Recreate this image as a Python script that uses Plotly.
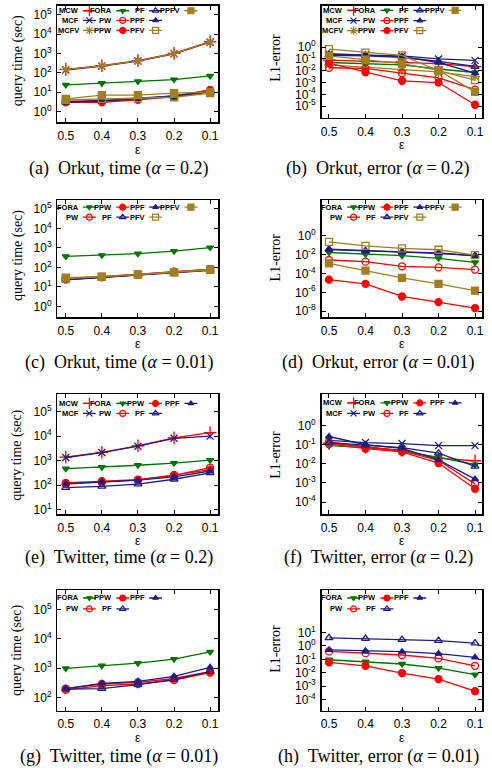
import plotly.graph_objects as go

W, H = 492, 779

EPS = [0.5, 0.4, 0.3, 0.2, 0.1]
EPS_TEXT = ["0.5", "0.4", "0.3", "0.2", "0.1"]

# (a) Orkut, query time (sec), alpha = 0.2
orkut_time_a02 = {
    "MCW":  [150, 232, 425, 1010, 4100],
    "MCF":  [140, 222, 405, 950, 3800],
    "MCFV": [147, 228, 415, 980, 3950],
    "FORA": [24, 29, 36, 45, 70],
    "PW":   [3.0, 3.0, 4.0, 6.0, 12],
    "PPW":  [3.5, 3.5, 4.5, 6.5, 13],
    "PF":   [3.0, 3.5, 4.5, 6.0, 10],
    "PPF":  [3.2, 3.8, 5.0, 6.5, 10],
    "PFV":  [4.0, 4.5, 5.0, 5.5, 9],
    "PPFV": [4.5, 7.0, 7.0, 9.0, 10],
}
# (b) Orkut, L1-error, alpha = 0.2
orkut_err_a02 = {
    "MCW":  [0.079, 0.063, 0.056, 0.040, 0.022],
    "MCF":  [0.25, 0.22, 0.18, 0.10, 0.076],
    "MCFV": [0.032, 0.020, 0.011, 0.0079, 0.0032],
    "FORA": [0.050, 0.042, 0.032, 0.014, 0.0071],
    "PW":   [0.018, 0.016, 0.0063, 0.0025, 0.00025],
    "PPW":  [0.045, 0.0074, 0.0014, 0.0010, 1.3e-5],
    "PF":   [0.20, 0.18, 0.14, 0.063, 0.023],
    "PPF":  [0.28, 0.22, 0.16, 0.050, 0.0063],
    "PFV":  [0.68, 0.35, 0.20, 0.010, 0.0016],
    "PPFV": [0.18, 0.079, 0.040, 0.011, 0.00016],
}
# (c) Orkut, query time (sec), alpha = 0.01
orkut_time_a001 = {
    "FORA": [370, 420, 510, 680, 1050],
    "PW":   [24, 31, 42, 60, 80],
    "PPW":  [26, 33, 44, 58, 78],
    "PF":   [23, 30, 40, 52, 70],
    "PPF":  [24, 31, 41, 54, 72],
    "PFV":  [27, 33, 43, 56, 76],
    "PPFV": [30, 34, 44, 57, 78],
}
# (d) Orkut, L1-error, alpha = 0.01
orkut_err_a001 = {
    "FORA": [0.017, 0.011, 0.0078, 0.0041, 0.0015],
    "PW":   [0.0027, 0.0018, 0.00058, 0.00045, 0.00026],
    "PPW":  [2.2e-5, 7.9e-6, 3.6e-7, 9.1e-8, 2.1e-8],
    "PF":   [0.039, 0.026, 0.020, 0.015, 0.0078],
    "PPF":  [0.035, 0.024, 0.019, 0.014, 0.0074],
    "PFV":  [0.23, 0.087, 0.046, 0.033, 0.0091],
    "PPFV": [0.0012, 0.0002, 3.4e-5, 7.9e-6, 1.5e-6],
}
# (e) Twitter, query time (sec), alpha = 0.2
twitter_time_a02 = {
    "MCW":  [1400, 2200, 4000, 8500, 14000],
    "MCF":  [1350, 2150, 3900, 8200, 10000],
    "FORA": [470, 540, 650, 800, 1050],
    "PW":   [110, 130, 160, 250, 520],
    "PPW":  [125, 145, 170, 260, 430],
    "PF":   [80, 90, 110, 175, 320],
    "PPF":  [115, 140, 160, 220, 380],
}
# (f) Twitter, L1-error, alpha = 0.2
twitter_err_a02 = {
    "MCW":  [0.12, 0.075, 0.050, 0.020, 0.0145],
    "MCF":  [0.17, 0.13, 0.115, 0.090, 0.090],
    "FORA": [0.090, 0.070, 0.048, 0.022, 0.0090],
    "PW":   [0.14, 0.075, 0.048, 0.015, 0.0009],
    "PPW":  [0.11, 0.062, 0.042, 0.011, 0.0005],
    "PF":   [0.13, 0.095, 0.070, 0.036, 0.0073],
    "PPF":  [0.27, 0.10, 0.065, 0.016, 0.0016],
}
# (g) Twitter, query time (sec), alpha = 0.01
twitter_time_a001 = {
    "FORA": [970, 1200, 1470, 2000, 3550],
    "PW":   [180, 250, 285, 390, 700],
    "PPW":  [200, 285, 325, 440, 750],
    "PF":   [190, 200, 270, 400, 750],
    "PPF":  [200, 300, 350, 520, 1050],
}
# (h) Twitter, L1-error, alpha = 0.01
twitter_err_a001 = {
    "FORA": [0.093, 0.066, 0.045, 0.022, 0.0072],
    "PW":   [0.39, 0.29, 0.21, 0.12, 0.033],
    "PPW":  [0.059, 0.033, 0.0095, 0.0034, 0.00042],
    "PF":   [4.0, 3.5, 3.0, 2.5, 1.6],
    "PPF":  [0.51, 0.43, 0.37, 0.27, 0.14],
}

DRAW_ORDER = ["MCW", "MCF", "MCFV", "FORA", "PW", "PPW", "PF", "PPF", "PFV", "PPFV"]

RED = "#ff0000"
GREEN = "#007200"
NAVY = "#1e1e80"
OLIVE = "#a07e22"
STYLE = {
    "MCW":  (RED, "cross-thin", 9),
    "MCF":  (NAVY, "x-thin", 7),
    "MCFV": (OLIVE, "asterisk", 8),
    "FORA": (GREEN, "triangle-down", 6),
    "PW":   (RED, "circle-open", 7),
    "PPW":  (RED, "circle", 7),
    "PF":   (NAVY, "triangle-up-open", 7),
    "PPF":  (NAVY, "triangle-up", 6),
    "PFV":  (OLIVE, "square-open", 7),
    "PPFV": (OLIVE, "square", 7),
}

LEG_3ROW = [["MCW", "MCF", "MCFV"], ["FORA", "PW", "PPW"], ["PF", "PPF", "PFV"], ["PPFV"]]
LEG_C = [["FORA", "PW"], ["PPW", "PF"], ["PPF", "PFV"], ["PPFV"]]
LEG_E = [["MCW", "MCF"], ["FORA", "PW"], ["PPW", "PF"], ["PPF"]]
LEG_G = [["FORA", "PW"], ["PPW", "PF"], ["PPF"]]

TIME_TITLE = "query time (sec)"
ERR_TITLE = "L1-error"

LX = (56.7, 218.3)
RX = (322.0, 483.3)
LXR = [0.523, 0.077]
RXR = [0.52, 0.08]

panels = [
    dict(data=orkut_time_a02, fx=LX, fy=(6.0, 122.7), xr=LXR, yr=[-0.55, 5.45], yt=[0, 1, 2, 3, 4, 5],
         ytitle=TIME_TITLE, tx=16.5, ty=61, cap="(a)  Orkut, time (<i>α</i> = 0.2)", cx=118.5, cy=169,
         leg=LEG_3ROW, rows=[4.8, 14.5, 24.5]),
    dict(data=orkut_err_a02, fx=RX, fy=(6.0, 118.3), xr=RXR, yr=[-6.0, 3.5], yt=[0, -1, -2, -3, -4, -5],
         ytitle=ERR_TITLE, tx=276, ty=58, cap="(b)  Orkut, error (<i>α</i> = 0.2)", cx=379, cy=169,
         leg=LEG_3ROW, rows=[4.5, 14.7, 24.7]),
    dict(data=orkut_time_a001, fx=LX, fy=(201.0, 318.3), xr=LXR, yr=[-0.55, 5.45], yt=[0, 1, 2, 3, 4, 5],
         ytitle=TIME_TITLE, tx=16.5, ty=256.5, cap="(c)  Orkut, time (<i>α</i> = 0.01)", cx=118.5, cy=364,
         leg=LEG_C, rows=[7.0, 17.0]),
    dict(data=orkut_err_a001, fx=RX, fy=(201.0, 318.3), xr=RXR, yr=[-8.63, 3.78], yt=[0, -2, -4, -6, -8],
         ytitle=ERR_TITLE, tx=276, ty=258.5, cap="(d)  Orkut, error (<i>α</i> = 0.01)", cx=379, cy=364,
         leg=LEG_C, rows=[7.0, 17.0]),
    dict(data=twitter_time_a02, fx=LX, fy=(396.0, 516.0), xr=LXR, yr=[0.825, 5.70], yt=[1, 2, 3, 4, 5],
         ytitle=TIME_TITLE, tx=16.5, ty=457, cap="(e)  Twitter, time (<i>α</i> = 0.2)", cx=118.5, cy=559.5,
         leg=LEG_E, rows=[9.0, 19.0]),
    dict(data=twitter_err_a02, fx=RX, fy=(396.0, 516.0), xr=RXR, yr=[-4.625, 1.63], yt=[0, -1, -2, -3, -4],
         ytitle=ERR_TITLE, tx=276, ty=456.7, cap="(f)  Twitter, error (<i>α</i> = 0.2)", cx=379, cy=559.5,
         leg=LEG_E, rows=[8.5, 19.0]),
    dict(data=twitter_time_a001, fx=LX, fy=(592.3, 713.3), xr=LXR, yr=[1.55, 5.66], yt=[2, 3, 4, 5],
         ytitle=TIME_TITLE, tx=16.5, ty=653, cap="(g)  Twitter, time (<i>α</i> = 0.01)", cx=118.5, cy=759.5,
         leg=LEG_G, rows=[8.0, 19.0]),
    dict(data=twitter_err_a001, fx=RX, fy=(592.3, 713.3), xr=RXR, yr=[-4.82, 4.17], yt=[1, 0, -1, -2, -3, -4],
         ytitle=ERR_TITLE, tx=276, ty=651.5, cap="(h)  Twitter, error (<i>α</i> = 0.01)", cx=379, cy=759.5,
         leg=LEG_G, rows=[8.0, 19.0]),
]

LEG_MARK_X = [32.0, 65.5, 98.5, 134.0]
LEG_HALF = 6.5
LEG_TEXT_GAP = 8.5

TICK_FONT = dict(family="Liberation Sans, Arial, sans-serif", size=12, color="black")
SERIF = "Liberation Serif, Times New Roman, serif"

fig = go.Figure()
annotations = []
layout = {}


def sfx(n):
    return "" if n == 1 else str(n)


for i, p in enumerate(panels, start=1):
    ov = i + 8
    xa, ya = "x" + sfx(i), "y" + sfx(i)
    oxa, oya = "x" + str(ov), "y" + str(ov)
    x0, x1 = p["fx"]
    y0, y1 = p["fy"]
    fw, fh = x1 - x0, y1 - y0

    layout["xaxis" + sfx(i)] = dict(
        domain=[x0 / W, x1 / W], anchor=ya, range=p["xr"], tickmode="array",
        tickvals=EPS, ticktext=EPS_TEXT, ticks="inside", ticklen=4, tickwidth=1,
        tickcolor="black", showline=True, linecolor="black", linewidth=1.5, mirror="ticks",
        showgrid=False, zeroline=False, tickfont=TICK_FONT, ticklabelstandoff=2,
    )
    layout["yaxis" + sfx(i)] = dict(
        domain=[1 - y1 / H, 1 - y0 / H], anchor=xa, type="log", range=p["yr"],
        tickmode="array", tickvals=[10.0 ** k for k in p["yt"]],
        ticktext=["10<sup>%d</sup>" % k for k in p["yt"]],
        ticks="inside", ticklen=4, tickwidth=1, tickcolor="black", showline=True,
        linecolor="black", linewidth=1.5, mirror="ticks", showgrid=False, zeroline=False,
        tickfont=TICK_FONT, ticklabelstandoff=2,
    )
    # overlay pixel-space axes for the in-plot key
    layout["xaxis" + str(ov)] = dict(overlaying=xa, anchor=oya, range=[0, fw], visible=False)
    layout["yaxis" + str(ov)] = dict(overlaying=ya, anchor=oxa, range=[fh, 0], visible=False)

    data = p["data"]
    for name in DRAW_ORDER:
        if name not in data:
            continue
        color, sym, size = STYLE[name]
        fig.add_trace(go.Scatter(
            x=EPS, y=data[name], xaxis=xa, yaxis=ya, mode="lines+markers", name=name,
            line=dict(color=color, width=1.3),
            marker=dict(symbol=sym, size=size, color=color, line=dict(color=color, width=1.3)),
            showlegend=False, hoverinfo="skip", cliponaxis=False,
        ))

    # key
    for ci, col in enumerate(p["leg"]):
        mx = LEG_MARK_X[ci]
        for ri, name in enumerate(col):
            ry = p["rows"][ri]
            color, sym, size = STYLE[name]
            fig.add_trace(go.Scatter(
                x=[mx - LEG_HALF, mx + LEG_HALF], y=[ry, ry], xaxis=oxa, yaxis=oya,
                mode="lines", line=dict(color=color, width=1.3), showlegend=False, hoverinfo="skip",
            ))
            fig.add_trace(go.Scatter(
                x=[mx], y=[ry], xaxis=oxa, yaxis=oya, mode="markers",
                marker=dict(symbol=sym, size=size - 1, color=color, line=dict(color=color, width=1.2)),
                showlegend=False, hoverinfo="skip",
            ))
            annotations.append(dict(
                x=mx - LEG_TEXT_GAP, y=ry, xref=oxa, yref=oya, text="<b>%s</b>" % name,
                showarrow=False, xanchor="right", yanchor="middle",
                font=dict(family="Liberation Sans, Arial, sans-serif", size=7.5, color="black"),
            ))

    # y-axis title
    annotations.append(dict(
        x=p["tx"] / W, y=1 - p["ty"] / H, xref="paper", yref="paper", text=p["ytitle"],
        textangle=-90, showarrow=False, xanchor="center", yanchor="middle",
        font=dict(family=SERIF, size=14, color="black"),
    ))
    # x-axis title
    annotations.append(dict(
        x=(x0 + x1) / 2 / W, y=1 - (y1 + 27.5) / H, xref="paper", yref="paper", text="ε",
        showarrow=False, xanchor="center", yanchor="middle",
        font=dict(family="Liberation Sans, Arial, sans-serif", size=12, color="black"),
    ))
    # caption
    annotations.append(dict(
        x=p["cx"] / W, y=1 - p["cy"] / H, xref="paper", yref="paper", text=p["cap"],
        showarrow=False, xanchor="center", yanchor="middle",
        font=dict(family=SERIF, size=18, color="black"),
    ))

fig.update_layout(
    width=W, height=H, margin=dict(l=0, r=0, t=0, b=0), autosize=False,
    paper_bgcolor="white", plot_bgcolor="rgba(0,0,0,0)", showlegend=False,
    annotations=annotations, **layout,
)

fig.write_html(
    "out.html",
    config={"displayModeBar": False, "staticPlot": True},
    post_script="document.body.style.margin='0';document.body.style.overflow='hidden';",
)
